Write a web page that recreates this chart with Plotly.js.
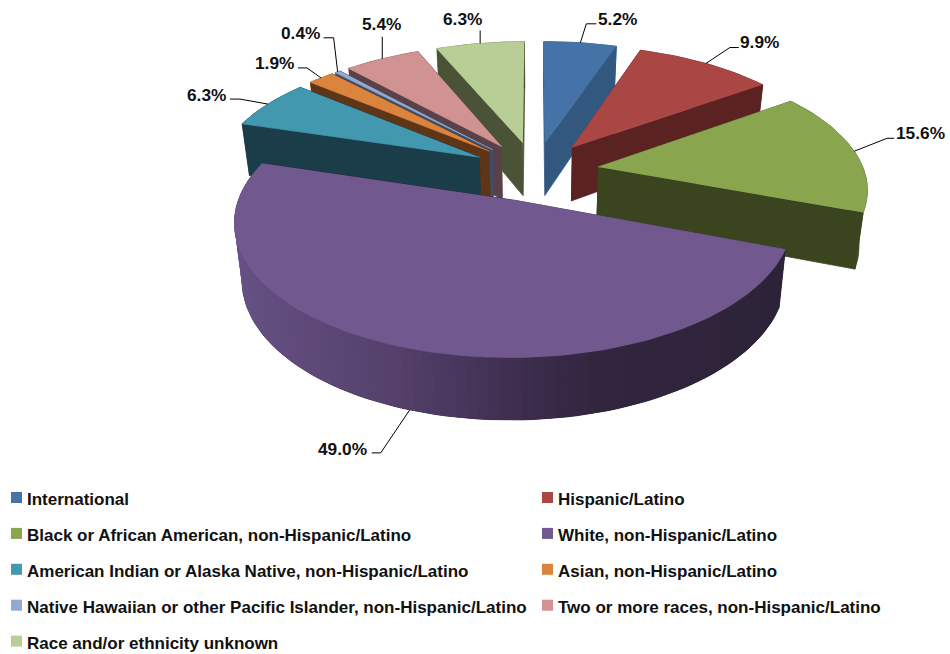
<!DOCTYPE html>
<html><head><meta charset="utf-8">
<script src="https://cdn.plot.ly/plotly-3.0.1.min.js"></script>
<style>html,body{margin:0;padding:0;background:#fff}#c{width:950px;height:654px}</style>
</head><body><div id="c"></div>
<script>
// --- data ---
const categories = [
  "International","Hispanic/Latino","Black or African American, non-Hispanic/Latino",
  "White, non-Hispanic/Latino","American Indian or Alaska Native, non-Hispanic/Latino",
  "Asian, non-Hispanic/Latino","Native Hawaiian or other Pacific Islander, non-Hispanic/Latino",
  "Two or more races, non-Hispanic/Latino","Race and/or ethnicity unknown"];
const shares = [5.2,9.9,15.6,49.0,6.3,1.9,0.4,5.4,6.3];

// --- styles ---
const topColors  = ["#4573A7","#AA4644","#89A54E","#71588F","#4298AF","#DB843D","#93A9CF","#D19392","#B9CD96"];
const sideColors = ["#32587F","#5A2321","#3A441E","#2D2338","#1B3D4A","#5E3516","#3F4E66","#5A4048","#4B5337"];
const rimStops = [[233,[102,81,133]],[400,[84,64,106]],[520,[63,46,80]],[600,[50,38,63]],[780,[45,35,56]]];
const paintOrder = [8,7,6,5,4,0,1,2,3];
// leader line bends relative to the rim point, label anchor relative to the last bend
const leaders = [
  [[6,-19],[16,-19]], [[24,-16],[33,-16]], [[33,-13],[40,-13]], [[-29,43],[-38,43]],
  [[-28,-5],[-38,-5]], [[-14,-10],[-23,-10]], [[-4,-34],[-14,-34]], [[0,-22]], [[0,-13]]];
const labelBox = [[1,-5],[0,-6],[1,-5],[-4,-4],[-3,-4],[-3,-5],[-3,-5],[-1,-13],[-18,-11]];
const labelAnchor = ["left","left","left","right","right","right","right","center","center"];

// --- projection of the tilted pie onto the pixel axes ---
const CX=535, CY=171, A=266, B=124, P=0.15, EXPLODE=0.24, K=0.975;
const FONT="Liberation Sans";
function proj(wx,wy,base){
  const s=1/(1+P*wy);
  let x=CX+A*wx*s, y=CY-B*wy*s;
  if(base){ x=CX+(x-CX)*K; y+=54.5-6.5*wy; }
  return [x,y];
}
function pt(a,r,mid,base){
  const t=a*Math.PI/180, m=mid*Math.PI/180;
  return proj(r*Math.sin(t)+EXPLODE*Math.sin(m), r*Math.cos(t)+EXPLODE*Math.cos(m), base);
}
function poly(points,color,lineWidth){
  const w = lineWidth===undefined ? 0.8 : lineWidth;
  return {type:"scatter",mode:"lines",x:points.map(p=>p[0]),y:points.map(p=>p[1]),
    fill:"toself",fillcolor:color,line:{color:color,width:w},hoverinfo:"skip",showlegend:false};
}
function lerpColor(x){
  for(let i=0;i<rimStops.length-1;i++){
    const [x0,c0]=rimStops[i],[x1,c1]=rimStops[i+1];
    if(x<=x1){const f=Math.max(0,(x-x0)/(x1-x0));
      return "rgb("+c0.map((v,j)=>Math.round(v+(c1[j]-v)*f)).join(",")+")";}
  }
  const c=rimStops[rimStops.length-1][1];return "rgb("+c.join(",")+")";
}
const total=shares.reduce((a,b)=>a+b,0);
let acc=0;
const slices=shares.map(v=>{const a0=acc/total*360;acc+=v;const a1=acc/total*360;return {a0,a1,mid:(a0+a1)/2};});
const traces=[];
paintOrder.forEach(i=>{
  const {a0,a1,mid}=slices[i];
  const n=Math.max(2,Math.ceil((a1-a0)/2));
  const arc=[];for(let k=0;k<=n;k++)arc.push(a0+(a1-a0)*k/n);
  // radial faces
  [a0,a1].forEach(a=>traces.push(poly([pt(a,0,mid),pt(a,1,mid),pt(a,1,mid,true),pt(a,0,mid,true)],sideColors[i])));
  // rim: a full dark band, then for the large slice overlapping shaded strips
  const band=arc.map(a=>pt(a,1,mid)).concat(arc.slice().reverse().map(a=>pt(a,1,mid,true)));
  traces.push(poly(band,sideColors[i]));
  if(i===3){
    for(let k=0;k<n;k++){
      const to=arc[Math.min(n,k+2)];
      const p=[pt(arc[k],1,mid),pt(to,1,mid),pt(to,1,mid,true),pt(arc[k],1,mid,true)];
      traces.push(poly(p,lerpColor(pt(arc[k],1,mid)[0]),0));
    }
  }
  // top
  const top=[pt(0,0,mid)].concat(arc.map(a=>pt(a,1,mid)));
  traces.push(poly(top,topColors[i]));
});
// leader lines and value labels
const annotations=[];
shares.forEach((v,i)=>{
  const {mid}=slices[i];
  const rim=pt(mid,1,mid,i===3);
  const line=[rim].concat(leaders[i].map(d=>[rim[0]+d[0],rim[1]+d[1]]));
  traces.push({type:"scatter",mode:"lines",x:line.map(p=>p[0]),y:line.map(p=>p[1]),
    line:{color:"#000",width:1},hoverinfo:"skip",showlegend:false});
  const end=line[line.length-1];
  annotations.push({x:end[0]+labelBox[i][0],y:end[1]+labelBox[i][1],xref:"x",yref:"y",
    text:"<b>"+v.toFixed(1)+"%</b>",showarrow:false,xanchor:labelAnchor[i],yanchor:"middle",
    font:{family:FONT,size:17.3,color:"#111"},borderpad:0});
});
// legend, two columns
const lx=i=>i%2?542:11, ly=i=>497.5+35.9*Math.floor(i/2);
categories.forEach((c,i)=>{
  traces.push({type:"scatter",mode:"markers",x:[lx(i)+5.5],y:[ly(i)],
    marker:{symbol:"square",size:11,color:topColors[i]},hoverinfo:"skip",showlegend:false});
  annotations.push({x:lx(i)+15,y:ly(i)+2,xref:"x",yref:"y",text:"<b>"+c+"</b>",showarrow:false,
    xanchor:"left",yanchor:"middle",font:{family:FONT,size:17,color:"#111"},borderpad:0});
});
Plotly.newPlot("c",traces,{
  width:950,height:654,margin:{l:0,r:0,t:0,b:0},paper_bgcolor:"#fff",plot_bgcolor:"#fff",
  xaxis:{range:[0,950],visible:false,fixedrange:true},
  yaxis:{range:[654,0],visible:false,fixedrange:true},
  annotations:annotations,showlegend:false
},{displayModeBar:false,staticPlot:true});
</script></body></html>
